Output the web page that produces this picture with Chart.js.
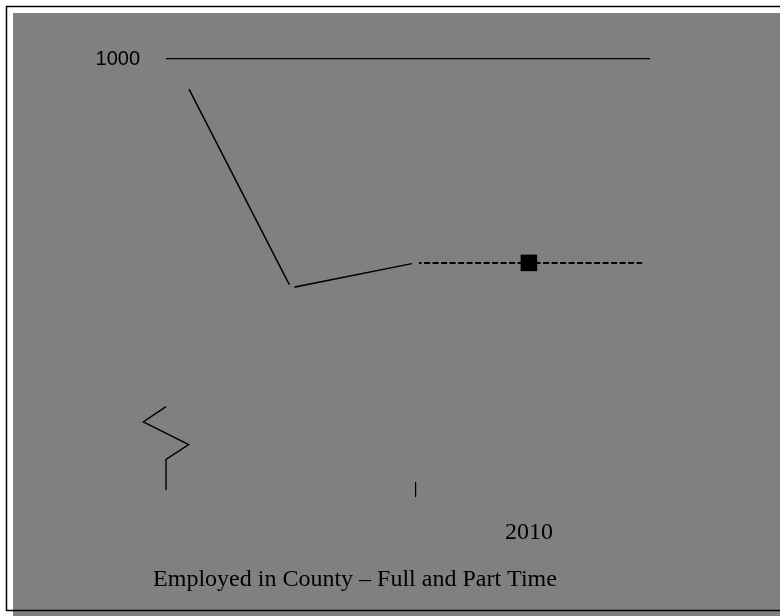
<!DOCTYPE html>
<html>
<head>
<meta charset="utf-8">
<script src="https://cdn.jsdelivr.net/npm/chart.js@4.4.1/dist/chart.umd.min.js"></script>
<style>
  html, body { margin: 0; padding: 0; background: #ffffff; }
  canvas { display: block; }
</style>
</head>
<body>
<canvas id="c" width="780" height="616"></canvas>
<script>
// ---- data ----
const years = [2007, 2007.9, 2009, 2010, 2011];
const employed = [929, 459, 518, 518, 518];
const yTickLabels = [1000];
const xTickLabels = ['2010'];
const xTickLabelYears = [2010];
const xTickMarkYears = [2009];
const chartTitle = 'Employed in County \u2013 Full and Part Time';

const GRAY = '#808080';

const points = years.map((x, i) => ({ x: x, y: employed[i] }));

const backgroundPlugin = {
  id: 'bg',
  beforeDraw(chart) {
    const ctx = chart.ctx;
    const W = chart.width, H = chart.height;
    ctx.save();
    ctx.fillStyle = '#ffffff';
    ctx.fillRect(0, 0, W, H);
    ctx.fillStyle = GRAY;
    ctx.fillRect(13, 13, W - 13, H - 13);
    ctx.strokeStyle = '#000000';
    ctx.lineWidth = 1.5;
    ctx.beginPath();
    ctx.moveTo(W, 6.5); ctx.lineTo(6.5, 6.5); ctx.lineTo(6.5, 610.5); ctx.lineTo(W, 610.5);
    ctx.stroke();
    ctx.restore();
  }
};

const decorPlugin = {
  id: 'decor',
  afterDraw(chart) {
    const ctx = chart.ctx;
    const a = chart.chartArea;
    const L = a.left, B = a.bottom;
    ctx.save();
    // axis break symbol
    ctx.strokeStyle = '#000000';
    ctx.lineWidth = 1.4;
    ctx.beginPath();
    ctx.moveTo(L + 0, B - 75.3);
    ctx.lineTo(L - 22.7, B - 60);
    ctx.lineTo(L + 22.7, B - 37.3);
    ctx.lineTo(L + 0, B - 22.7);
    ctx.lineTo(L + 0, B + 8);
    ctx.stroke();
    // title
    ctx.fillStyle = '#000000';
    ctx.font = '24px "Liberation Serif", "Times New Roman", serif';
    ctx.textAlign = 'center';
    ctx.textBaseline = 'middle';
    ctx.fillText(chartTitle, 355, 580);
    ctx.restore();
  }
};

new Chart(document.getElementById('c'), {
  type: 'line',
  data: {
    datasets: [{
      data: points,
      borderColor: '#000000',
      borderWidth: 1.5,
      tension: 0,
      fill: false,
      segment: {
        borderDash: ctx => ctx.p0DataIndex >= 2 ? [6, 2.5] : undefined,
        borderWidth: ctx => ctx.p0DataIndex >= 2 ? 2 : 1.5
      },
      pointRadius: [0, 3.5, 3.5, 11.7, 0],
      pointStyle: ['circle', 'circle', 'circle', 'rect', 'circle'],
      pointBackgroundColor: [GRAY, GRAY, GRAY, '#000000', GRAY],
      pointBorderWidth: 0,
      pointHoverRadius: 0
    }]
  },
  options: {
    responsive: false,
    animation: false,
    events: [],
    layout: { padding: { left: 0, right: 130, top: 59, bottom: 0 } },
    plugins: { legend: { display: false }, tooltip: { enabled: false }, title: { display: false } },
    scales: {
      x: {
        type: 'linear',
        min: 2006.797,
        max: 2011.069,
        border: { display: false },
        afterFit(scale) { scale.height = 134; },
        afterBuildTicks(scale) {
          scale.ticks = xTickMarkYears.concat(xTickLabelYears).map(v => ({ value: v }));
        },
        grid: {
          drawOnChartArea: false,
          drawTicks: true,
          tickLength: 15,
          lineWidth: 1.2,
          color: ctx => (ctx.tick && xTickMarkYears.includes(ctx.tick.value)) ? '#000000' : 'rgba(0,0,0,0)'
        },
        ticks: {
          autoSkip: false,
          maxRotation: 0,
          padding: 21,
          color: '#000000',
          font: { family: '"Liberation Serif", "Times New Roman", serif', size: 24 },
          callback: v => { const i = xTickLabelYears.indexOf(v); return i >= 0 ? xTickLabels[i] : ''; }
        }
      },
      y: {
        type: 'linear',
        min: 0,
        max: 1000,
        border: { display: false },
        afterFit(scale) { scale.width = 166; },
        afterBuildTicks(scale) {
          scale.ticks = [{ value: 0 }].concat(yTickLabels.map(v => ({ value: v })));
        },
        grid: {
          drawTicks: false,
          lineWidth: 1.2,
          color: ctx => (ctx.tick && yTickLabels.includes(ctx.tick.value)) ? '#000000' : 'rgba(0,0,0,0)'
        },
        ticks: {
          padding: 26,
          color: '#000000',
          font: { family: '"Liberation Sans", Arial, sans-serif', size: 20 },
          callback: v => yTickLabels.includes(v) ? String(v) : ''
        }
      }
    }
  },
  plugins: [backgroundPlugin, decorPlugin]
});
</script>
</body>
</html>
